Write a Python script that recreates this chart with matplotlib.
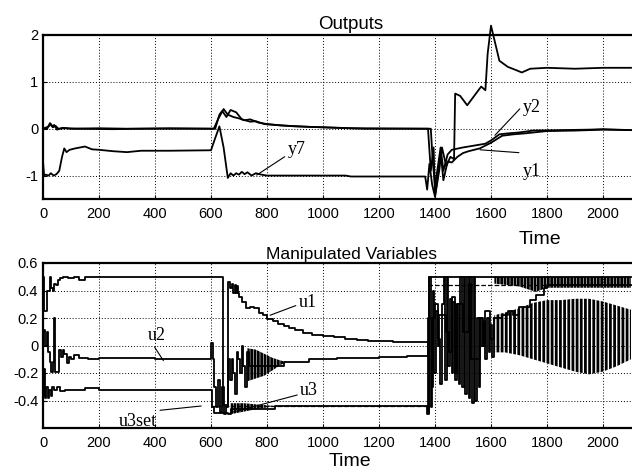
"""
plot.py
-------
Outputs and manipulated variables of the controlled process (two stacked panels).
"""

import matplotlib.pyplot as plt

plt.rcParams['font.family'] = ['Liberation Sans', 'DejaVu Sans']
plt.rcParams['axes.unicode_minus'] = False
plt.rcParams['hatch.linewidth'] = 2.0
plt.rcParams['hatch.color'] = 'black'

# ---- top panel: outputs ----
y1_t = [0, 15, 25, 32, 40, 50, 70, 100, 200, 300, 400, 500, 610, 625, 645, 660, 680, 700, 720, 740,
        770, 800, 850, 950, 1050, 1150, 1375, 1385, 1395, 1400, 1410, 1420, 1430, 1445, 1460, 1480,
        1500, 1520, 1560, 1600, 1640, 1680, 1720, 1800, 1900, 2000, 2100]
y1_v = [0, 0, 0.12, 0.05, 0.08, -0.02, 0.02, 0, 0.01, 0, 0, 0, 0, 0.2, 0.42, 0.3, 0.25, 0.22, 0.18, 0.2,
        0.13, 0.1, 0.07, 0.04, 0.02, 0, 0, -0.9, -0.4, -1.45, -1.0, -0.5, -1.1, -0.7, -0.72, -0.6,
        -0.52, -0.48, -0.42, -0.3, -0.15, -0.12, -0.1, -0.05, -0.04, -0.02, -0.03]

y2_t = [0, 20, 28, 35, 45, 55, 80, 120, 250, 330, 450, 615, 630, 640, 655, 670, 690, 710, 740, 760,
        790, 830, 900, 1000, 1100, 1385, 1392, 1400, 1408, 1420, 1430, 1445, 1460, 1500, 1550, 1580,
        1600, 1630, 1660, 1700, 1750, 1850, 1950, 2000, 2100]
y2_v = [0, 0.05, 0.1, 0.03, 0.06, 0, 0.01, 0, -0.01, 0, 0.01, 0, 0.3, 0.38, 0.25, 0.4, 0.35, 0.2, 0.15, 0.16,
        0.1, 0.08, 0.05, 0.03, 0.01, 0, -0.7, -1.2, -0.9, -0.4, -0.9, -0.55, -0.45, -0.4, -0.35, -0.32,
        -0.25, -0.12, -0.1, -0.08, -0.04, -0.03, -0.02, -0.01, -0.03]

y7_t = [0, 4, 10, 20, 28, 38, 48, 58, 68, 76, 84, 95, 115, 150, 175, 200, 250, 300, 350, 450,
        600, 615, 630, 645, 660, 670, 680, 690, 700, 710, 720, 730, 745, 760, 780, 800, 900, 1080,
        1100, 1365, 1372, 1380, 1390, 1400, 1415, 1425, 1440, 1455, 1468, 1472, 1490, 1515, 1540,
        1565, 1580, 1588, 1600, 1612, 1630, 1660, 1690, 1710, 1740, 1800, 1900, 2000, 2100]
y7_v = [-0.7, -1.0, -0.98, -1.0, -0.95, -1.0, -0.97, -0.9, -0.6, -0.42, -0.5, -0.45, -0.42, -0.38, -0.44,
        -0.45, -0.48, -0.5, -0.47, -0.47, -0.46, -0.2, 0.05, -0.4, -1.05, -0.95, -1.0, -0.95, -0.98,
        -0.92, -0.97, -0.93, -1.0, -0.95, -0.98, -1.0, -1.0, -1.0, -1.02, -1.02, -1.3, -0.75, -1.2,
        -1.45, -0.9, -0.4, -0.8, -0.6, -0.65, 0.75, 0.7, 0.5, 0.7, 0.9, 0.82, 1.6, 2.2, 1.9, 1.45,
        1.32, 1.25, 1.2, 1.28, 1.3, 1.28, 1.3, 1.3]

# ---- bottom panel: manipulated variables (stair signals) ----
u1_t = [0, 4, 16, 25, 28, 36, 40, 46, 52, 60, 70, 90, 110, 130, 150, 644, 662, 668, 674, 680,
        684, 688, 692, 696, 700, 712, 725, 740, 755, 770, 785, 800, 820, 840, 860, 880, 900, 930,
        960, 1000, 1040, 1080, 1120, 1160, 1200, 1250, 1376, 1380, 1386, 1390, 1394, 1398, 1402,
        1410, 1418, 1424, 1432, 1436, 1442, 1448, 1454, 1460, 1466, 1472, 1478, 1484, 1490, 1496,
        1502, 1508, 1514, 1520, 1526, 1532, 1538, 1544, 1550, 1556, 1562, 1568, 1574, 1580, 1586,
        1592, 1598, 1604, 1610, 1640, 1660, 1680, 1700, 1720, 1740, 1760, 1790, 1800, 2100]
u1_v = [0.5, 0.25, 0.4, 0.5, 0.42, 0.4, 0.45, 0.44, 0.48, 0.49, 0.5, 0.49, 0.5, 0.48, 0.5, -0.43, 0.46,
        0.42, 0.45, 0.38, 0.44, 0.38, 0.43, 0.38, 0.35, 0.32, 0.27, 0.28, 0.27, 0.24, 0.22, 0.19, 0.18,
        0.16, 0.14, 0.13, 0.11, 0.09, 0.08, 0.07, 0.06, 0.05, 0.04, 0.035, 0.03, 0.025, -0.49, 0.5,
        0.2, -0.3, 0.4, -0.2, 0.25, 0.05, -0.28, 0.3, 0.5, -0.25, 0.5, -0.15, 0.34, -0.2, 0.32,
        -0.25, 0.3, -0.28, 0.5, -0.3, 0.5, -0.35, 0.5, -0.38, 0.5, -0.42, 0.5, -0.4, 0.2, -0.3,
        0.2, 0.0, 0.18, -0.1, 0.2, -0.05, 0.15, -0.08, 0.2, 0.22, 0.25, 0.22, 0.28, 0.28, 0.33,
        0.37, 0.42, 0.44, 0.44]

u2_t = [0, 5, 8, 14, 18, 24, 28, 34, 38, 42, 50, 56, 62, 66, 70, 76, 84, 92, 100, 110, 130, 160,
        200, 300, 400, 600, 606, 612, 618, 626, 632, 640, 646, 655, 662, 668, 674, 680, 686, 692,
        698, 704, 710, 716, 722, 728, 734, 860, 950, 1050, 1200, 1300, 1376, 1384, 1390, 1400,
        1410, 1416, 1440, 1450, 1460, 1470, 1480, 1500, 1520, 1530, 1560, 1570, 1580, 1595, 1612]
u2_v = [0.1, 0.11, 0.0, 0.1, -0.05, -0.12, -0.19, -0.12, 0.2, -0.19, -0.19, -0.03, -0.03, -0.08,
        -0.03, -0.06, -0.13, -0.08, -0.1, -0.07, -0.09, -0.1, -0.09, -0.09, -0.1, 0.02, -0.1, -0.3,
        -0.45, -0.25, -0.48, -0.3, -0.5, -0.45, -0.1, -0.25, -0.1, -0.2, -0.35, -0.05, -0.1, -0.2,
        0.0, -0.15, -0.3, -0.05, -0.15, -0.12, -0.1, -0.09, -0.08, -0.075, 0.2, -0.45, 0.2, 0.3,
        0.0, 0.22, 0.1, -0.05, 0.35, -0.2, 0.3, 0.1, 0.45, -0.1, 0.2, 0.0, 0.25, 0.05, 0.2]

u3_t = [0, 4, 8, 12, 18, 22, 28, 32, 40, 50, 60, 80, 150, 200, 602, 610, 662, 670, 830, 1370,
        1378, 2100]
u3_v = [-0.36, -0.17, -0.38, -0.3, -0.38, -0.32, -0.37, -0.3, -0.32, -0.3, -0.33, -0.32, -0.31,
        -0.32, -0.45, -0.49, -0.5, -0.46, -0.44, -0.5, 0.5, 0.5]

u3set_t = [600, 1378, 2100]
u3set_v = [-0.44, 0.44, 0.44]

# envelopes of the fast oscillations (drawn as dense vertical bars)
osc_u2_t = [730, 760, 790, 820, 850, 870]
osc_u2_hi = [-0.02, -0.03, -0.06, -0.09, -0.11, -0.12]
osc_u2_lo = [-0.26, -0.24, -0.22, -0.18, -0.14, -0.12]

osc_u3_t = [670, 720, 770, 830]
osc_u3_hi = [-0.42, -0.42, -0.43, -0.44]
osc_u3_lo = [-0.5, -0.48, -0.46, -0.44]

osc_low_t = [1612, 1650, 1700, 1750, 1800, 1850, 1900, 1950, 2000, 2050, 2100]
osc_low_hi = [0.22, 0.24, 0.27, 0.31, 0.33, 0.33, 0.34, 0.34, 0.32, 0.29, 0.26]
osc_low_lo = [-0.05, -0.05, -0.07, -0.1, -0.13, -0.16, -0.19, -0.21, -0.19, -0.15, -0.1]

osc_high_t = [1612, 1700, 1760, 1800, 1900, 2000, 2100]
osc_high_hi = [0.5, 0.5, 0.5, 0.5, 0.5, 0.5, 0.5]
osc_high_lo = [0.45, 0.43, 0.39, 0.42, 0.42, 0.42, 0.42]

x_ticks = [0, 200, 400, 600, 800, 1000, 1200, 1400, 1600, 1800, 2000]
top_yticks = [-1, 0, 1, 2]
bot_yticks = [-0.4, -0.2, 0, 0.2, 0.4, 0.6]
bot_ylabels = ['-0.4', '-0.2', '0', '0.2', '0.4', '0.6']

W, H = 632, 472
fig = plt.figure(figsize=(W / 100, H / 100), dpi=100)
ax1 = fig.add_axes([43 / W, 1 - 199 / H, 616 / W, 164 / H])
ax2 = fig.add_axes([43 / W, 1 - 428 / H, 616 / W, 165 / H])

for ax in (ax1, ax2):
    ax.set_xlim(0, 2200)
    ax.set_xticks(x_ticks)
    ax.grid(True, color='black', linestyle=(0, (1, 2)), linewidth=0.7)
    ax.tick_params(direction='in', length=3, labelsize=10.5, colors='black')
    ax.tick_params(axis='x', pad=6)
    for sp in ax.spines.values():
        sp.set_linewidth(1.6)

serif = dict(family=['Liberation Serif', 'DejaVu Serif'], fontsize=13)
lead = dict(arrowstyle='-', lw=0.8, color='black', shrinkA=0, shrinkB=0)

# 1. outputs (peak of y7 pokes above the frame, as in the original)
ax1.plot(y1_t, y1_v, color='black', lw=1.3, clip_on=False)
ax1.plot(y2_t, y2_v, color='black', lw=1.3, clip_on=False)
ax1.plot(y7_t, y7_v, color='black', lw=1.3, clip_on=False)
ax1.set_ylim(-1.5, 2)
ax1.set_yticks(top_yticks)
ax1.set_title('Outputs', fontsize=13.5, pad=4)

ax1.annotate('y7', xy=(763, -0.99), xytext=(905, -0.45), ha='center', va='center',
             arrowprops=dict(lead, relpos=(0.0, 0.2)), **serif)
ax1.annotate('y2', xy=(1614, -0.14), xytext=(1745, 0.45), ha='center', va='center',
             arrowprops=dict(lead, relpos=(0.0, 0.6)), **serif)
ax1.annotate('y1', xy=(1561, -0.45), xytext=(1745, -0.91), ha='center', va='center',
             arrowprops=dict(lead, relpos=(-0.2, 1.6)), **serif)

# 2. manipulated variables
ax2.fill_between(osc_u2_t, osc_u2_lo, osc_u2_hi, facecolor='none', edgecolor='black',
                 hatch='|||||', linewidth=0)
ax2.fill_between(osc_u3_t, osc_u3_lo, osc_u3_hi, facecolor='none', edgecolor='black',
                 hatch='|||||', linewidth=0)
ax2.fill_between(osc_low_t, osc_low_lo, osc_low_hi, facecolor='none', edgecolor='black',
                 hatch='||||', linewidth=0)
ax2.fill_between(osc_high_t, osc_high_lo, osc_high_hi, facecolor='none', edgecolor='black',
                 hatch='|||||', linewidth=0)
ax2.plot(u1_t, u1_v, color='black', lw=1.3, drawstyle='steps-post')
ax2.plot(u2_t, u2_v, color='black', lw=1.3, drawstyle='steps-post')
ax2.plot(u3_t, u3_v, color='black', lw=1.3, drawstyle='steps-post')
ax2.plot(u3set_t, u3set_v, color='black', lw=0.9, linestyle='--', drawstyle='steps-post')
ax2.set_ylim(-0.6, 0.6)
ax2.set_yticks(bot_yticks)
ax2.set_yticklabels(bot_ylabels)
ax2.set_title('Manipulated Variables', fontsize=12.5, pad=3)

ax2.annotate('u1', xy=(811, 0.22), xytext=(945, 0.31), ha='center', va='center',
             arrowprops=dict(lead, relpos=(0.0, 0.4)), **serif)
ax2.annotate('u2', xy=(430, -0.11), xytext=(405, 0.07), ha='center', va='center',
             arrowprops=dict(lead, relpos=(0.3, 0.0)), **serif)
ax2.annotate('u3', xy=(668, -0.49), xytext=(950, -0.33), ha='center', va='center',
             arrowprops=dict(lead, relpos=(0.0, 0.3)), **serif)
ax2.annotate('u3set', xy=(565, -0.44), xytext=(340, -0.55), ha='center', va='center',
             arrowprops=dict(lead, relpos=(0.05, 0.9)), **serif)

fig.text(540 / W, 1 - 240 / H, 'Time', ha='center', va='center', fontsize=14)
fig.text(350 / W, 1 - 461 / H, 'Time', ha='center', va='center', fontsize=14)

fig.savefig('out.png', dpi=100)
